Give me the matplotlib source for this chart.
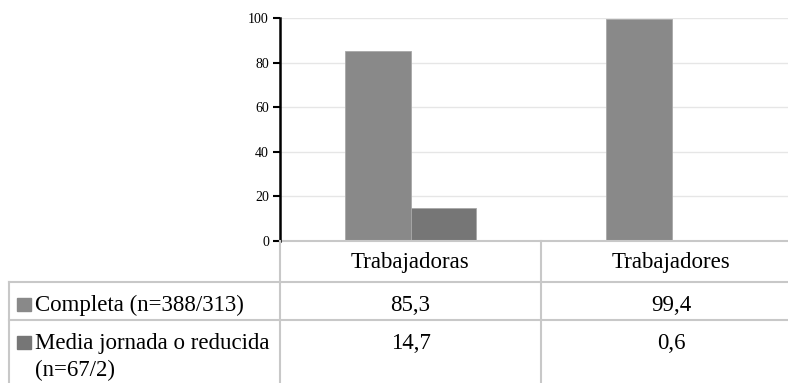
import matplotlib.pyplot as plt
import numpy as np

plt.rcParams['font.family'] = ['Liberation Serif', 'DejaVu Serif']

categories = ["Trabajadoras", "Trabajadores"]
series_labels = ["Completa (n=388/313)", "Media jornada o reducida\n(n=67/2)"]
completa = [85.3, 99.4]
media = [14.7, 0.6]
colors = ["#898989", "#767676"]

W, H = 788, 383
fig = plt.figure(figsize=(W / 100, H / 100), dpi=100)

# bar chart area
ax = fig.add_axes([280 / W, (H - 241) / H, 1 - 280 / W, (241 - 18) / H])
x = np.arange(len(categories))
bw = 0.25
ax.bar(x - bw / 2, completa, bw, color=colors[0], edgecolor="#a8a8a8", linewidth=0.6, zorder=2)
ax.bar(x + bw / 2, media, bw, color=colors[1], edgecolor="#a8a8a8", linewidth=0.6, zorder=2)
ax.set_xlim(-0.5, 1 + (W - 671.5) / 261)
ax.set_ylim(0, 100)
ax.set_yticks([0, 20, 40, 60, 80, 100])
ax.set_xticks([])
ax.yaxis.grid(True, color="#e6e6e6", linewidth=1, zorder=0)
ax.set_axisbelow(True)
for s in ["top", "right"]:
    ax.spines[s].set_visible(False)
ax.spines["left"].set_color("black")
ax.spines["left"].set_linewidth(1.8)
ax.spines["left"].set_zorder(4)
ax.spines["bottom"].set_color("#c8c8c8")
ax.spines["bottom"].set_linewidth(1.5)
ax.spines["bottom"].set_zorder(3)
ax.tick_params(axis="y", length=5, width=1.5, color="black", labelsize=10, pad=3)

# table overlay in pixel coordinates
tab = fig.add_axes([0, 0, 1, 1], facecolor="none")
tab.set_xlim(0, W)
tab.set_ylim(H, 0)
tab.axis("off")
lc = "#c8c8c8"
lw = 1.5
tab.plot([9, W], [282, 282], color=lc, lw=lw)
tab.plot([9, W], [320, 320], color=lc, lw=lw)
tab.plot([9, 9], [282, H], color=lc, lw=lw)
tab.plot([280, 280], [241, H], color=lc, lw=lw)
tab.plot([541, 541], [241, H], color=lc, lw=lw)

col_centres = [410.5, 671.5]
fs = 16.5
for cx, cat in zip(col_centres, categories):
    tab.text(cx, 268, cat, ha="center", va="baseline", fontsize=fs)

row_base = [311, 349]
for rb, vals in zip(row_base, [completa, media]):
    for cx, v in zip(col_centres, vals):
        tab.text(cx, rb, f"{v:.1f}".replace(".", ","), ha="center", va="baseline", fontsize=fs)

for rb, lab, c in zip(row_base, series_labels, colors):
    tab.add_patch(plt.Rectangle((17, rb - 13), 14, 13, color=c))
    for i, line in enumerate(lab.split("\n")):
        tab.text(35 if i == 0 else 35, rb + 27 * i, line, ha="left", va="baseline", fontsize=fs)

fig.savefig("out.png", dpi=100)
plt.close()
